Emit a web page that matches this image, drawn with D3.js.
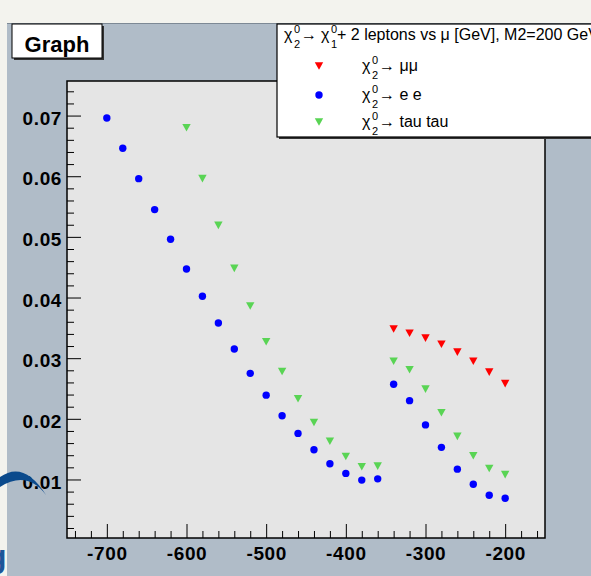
<!DOCTYPE html>
<html>
<head>
<meta charset="utf-8">
<script src="https://cdn.jsdelivr.net/npm/d3@7"></script>
<style>
  html, body { margin: 0; padding: 0; background: #f3f3ee; }
  svg { display: block; }
  text { font-family: "Liberation Sans", Arial, Helvetica, sans-serif; }
</style>
</head>
<body>
<svg id="chart" width="591" height="576"></svg>
<script>
// chi2 -> chi1 + 2 leptons, values versus mu [GeV]
const eeX = [-700,-680,-660,-640,-620,-600,-580,-560,-540,-520,-500,-480,-460,-440,-420,-400,-380,-360,-340,-320,-300,-280,-260,-240,-220,-200];
const eeY = [0.0696,0.0646,0.0596,0.0545,0.0496,0.0447,0.0402,0.0358,0.0315,0.0275,0.0239,0.0205,0.0176,0.0149,0.0126,0.0110,0.0099,0.0101,0.0257,0.0230,0.0190,0.0153,0.0117,0.0092,0.0074,0.0069];

const tautauX = [-600,-580,-560,-540,-520,-500,-480,-460,-440,-420,-400,-380,-360,-340,-320,-300,-280,-260,-240,-220,-200];
const tautauY = [0.0680,0.0596,0.0519,0.0448,0.0386,0.0327,0.0278,0.0233,0.0194,0.0163,0.0138,0.0121,0.0122,0.0295,0.0281,0.0249,0.0210,0.0171,0.0139,0.0118,0.0108];

const mumuX = [-340,-320,-300,-280,-260,-240,-220,-200];
const mumuY = [0.0348,0.0341,0.0333,0.0323,0.0310,0.0295,0.0277,0.0258];

const xMajorTicks = [-700,-600,-500,-400,-300,-200];
const xTickLabels = ["-700","-600","-500","-400","-300","-200"];
const yMajorTicks = [0.01,0.02,0.03,0.04,0.05,0.06,0.07];
const yTickLabels = ["0.01","0.02","0.03","0.04","0.05","0.06","0.07"];

const legendEntries = ["μμ", "e e", "tau tau"];

const svg = d3.select("#chart");

// page backdrop and canvas
svg.append("rect").attr("x", 0).attr("y", 0).attr("width", 591).attr("height", 576).attr("fill", "#f3f3ee");
svg.append("rect").attr("x", 7).attr("y", 23).attr("width", 584).attr("height", 553).attr("fill", "#b0bcc8");
svg.append("line").attr("x1", 7).attr("y1", 23.5).attr("x2", 591).attr("y2", 23.5).attr("stroke", "#7d8995").attr("stroke-width", 1);

const frame = { left: 67, right: 545, top: 81, bottom: 538 };

const x = d3.scaleLinear().domain([-750, -150]).range([frame.left, frame.right]);
const y = d3.scaleLinear().domain([0.00035, 0.0757]).range([frame.bottom, frame.top]);

// plot area
svg.append("rect")
  .attr("x", frame.left).attr("y", frame.top)
  .attr("width", frame.right - frame.left).attr("height", frame.bottom - frame.top)
  .attr("fill", "#e5e5e5");

// minor ticks
const xMinor = d3.range(-740, -150, 20).filter(v => !xMajorTicks.includes(v));
const yMinor = d3.range(1, 38).map(i => +(i * 0.002).toFixed(3)).filter(v => v < 0.0757 && Math.abs(v * 100 - Math.round(v * 100)) > 1e-6);

svg.append("g")
  .attr("transform", `translate(0,${frame.bottom})`)
  .call(d3.axisBottom(x).tickValues(xMinor).tickSize(-7).tickFormat(""))
  .call(g => g.select(".domain").remove())
  .call(g => g.selectAll("line").attr("stroke", "#000").attr("stroke-width", 1));

svg.append("g")
  .attr("transform", `translate(${frame.left},0)`)
  .call(d3.axisLeft(y).tickValues(yMinor).tickSize(-7).tickFormat(""))
  .call(g => g.select(".domain").remove())
  .call(g => g.selectAll("line").attr("stroke", "#000").attr("stroke-width", 1));

// major ticks with labels
svg.append("g")
  .attr("transform", `translate(0,${frame.bottom})`)
  .call(d3.axisBottom(x).tickValues(xMajorTicks).tickSize(-14).tickPadding(9)
        .tickFormat((d, i) => xTickLabels[i]))
  .call(g => g.select(".domain").remove())
  .call(g => g.selectAll("line").attr("stroke", "#000").attr("stroke-width", 1))
  .call(g => g.selectAll("text")
        .attr("fill", "#000").attr("font-size", 19).attr("font-weight", "bold")
        .attr("letter-spacing", "0.6px")
        .attr("font-family", "Liberation Sans, Arial, sans-serif"));

svg.append("g")
  .attr("transform", `translate(${frame.left},0)`)
  .call(d3.axisLeft(y).tickValues(yMajorTicks).tickSize(-14).tickPadding(5)
        .tickFormat((d, i) => yTickLabels[i]))
  .call(g => g.select(".domain").remove())
  .call(g => g.selectAll("line").attr("stroke", "#000").attr("stroke-width", 1))
  .call(g => g.selectAll("text")
        .attr("fill", "#000").attr("font-size", 19).attr("font-weight", "bold")
        .attr("letter-spacing", "0.6px")
        .attr("dy", "0.45em")
        .attr("font-family", "Liberation Sans, Arial, sans-serif"));

// frame border
svg.append("rect")
  .attr("x", frame.left).attr("y", frame.top)
  .attr("width", frame.right - frame.left).attr("height", frame.bottom - frame.top)
  .attr("fill", "none").attr("stroke", "#000").attr("stroke-width", 1.5);

// markers
const downTri = d3.symbol().type({
  draw(ctx, size) {
    const w = 4.2, h = 3.8;
    ctx.moveTo(-w, -h); ctx.lineTo(w, -h); ctx.lineTo(0, h); ctx.closePath();
  }
})();

const plot = svg.append("g");

plot.selectAll("circle.ee")
  .data(eeX.map((v, i) => [v, eeY[i]]))
  .join("circle").attr("class", "ee")
  .attr("cx", d => x(d[0])).attr("cy", d => y(d[1])).attr("r", 3.7)
  .attr("fill", "#0000ff");

plot.selectAll("path.tautau")
  .data(tautauX.map((v, i) => [v, tautauY[i]]))
  .join("path").attr("class", "tautau")
  .attr("d", downTri)
  .attr("transform", d => `translate(${x(d[0])},${y(d[1])})`)
  .attr("fill", "#59d454");

plot.selectAll("path.mumu")
  .data(mumuX.map((v, i) => [v, mumuY[i]]))
  .join("path").attr("class", "mumu")
  .attr("d", downTri)
  .attr("transform", d => `translate(${x(d[0])},${y(d[1])})`)
  .attr("fill", "#ff0000");

// title box
svg.append("rect").attr("x", 14).attr("y", 26).attr("width", 90).attr("height", 34).attr("fill", "#333");
svg.append("rect").attr("x", 12).attr("y", 24).attr("width", 90).attr("height", 34)
  .attr("fill", "#fff").attr("stroke", "#000").attr("stroke-width", 1);
svg.append("text").attr("x", 57).attr("y", 51.5).attr("text-anchor", "middle")
  .attr("font-size", 22).attr("font-weight", "bold").attr("fill", "#000").text("Graph");

// legend
const leg = svg.append("g");
leg.append("rect").attr("x", 279).attr("y", 26).attr("width", 330).attr("height", 113).attr("fill", "#333");
leg.append("rect").attr("x", 277).attr("y", 24).attr("width", 330).attr("height", 113)
  .attr("fill", "#fff").attr("stroke", "#000").attr("stroke-width", 1.2);

const FS = 16;

// chi with stacked superscript/subscript
function chi(g, x0, base, sub) {
  g.append("text").attr("x", x0).attr("y", base).attr("font-size", FS)
    .attr("font-family", "DejaVu Serif, serif").text("χ");
  g.append("text").attr("x", x0 + 10).attr("y", base - 7).attr("font-size", 11).text("0");
  g.append("text").attr("x", x0 + 10).attr("y", base + 8).attr("font-size", 11).text(sub);
  return x0 + 17;
}

const hdr = leg.append("g").attr("fill", "#000");
let hx = chi(hdr, 284, 40, "2");
hdr.append("text").attr("x", hx).attr("y", 40).attr("font-size", FS).text("→");
hx = chi(hdr, 321, 40, "1");
hdr.append("text").attr("x", hx - 1).attr("y", 40).attr("font-size", FS)
  .text("+ 2 leptons vs μ [GeV], M2=200 GeV");

const rowY = [66, 95, 122];
const rowMarker = [
  g => g.append("path").attr("d", downTri).attr("fill", "#ff0000"),
  g => g.append("circle").attr("r", 3.7).attr("fill", "#0000ff"),
  g => g.append("path").attr("d", downTri).attr("fill", "#59d454")
];
legendEntries.forEach((label, i) => {
  const m = leg.append("g").attr("transform", `translate(319,${rowY[i]})`);
  rowMarker[i](m);
  const t = leg.append("g").attr("fill", "#000");
  const base = rowY[i] + 5;
  const tx = chi(t, 362, base, "2");
  t.append("text").attr("x", tx).attr("y", base).attr("font-size", FS).text("→ " + label);
});

// logo fragments at the left edge
svg.append("path")
  .attr("d", "M0,477 Q24,460 46,495 Q27,470 0,487 Z")
  .attr("fill", "#0b4a8c");
svg.append("text").attr("x", -13).attr("y", 567).attr("font-size", 32).attr("font-weight", "bold")
  .attr("fill", "#1d5699").text("g");
</script>
</body>
</html>
